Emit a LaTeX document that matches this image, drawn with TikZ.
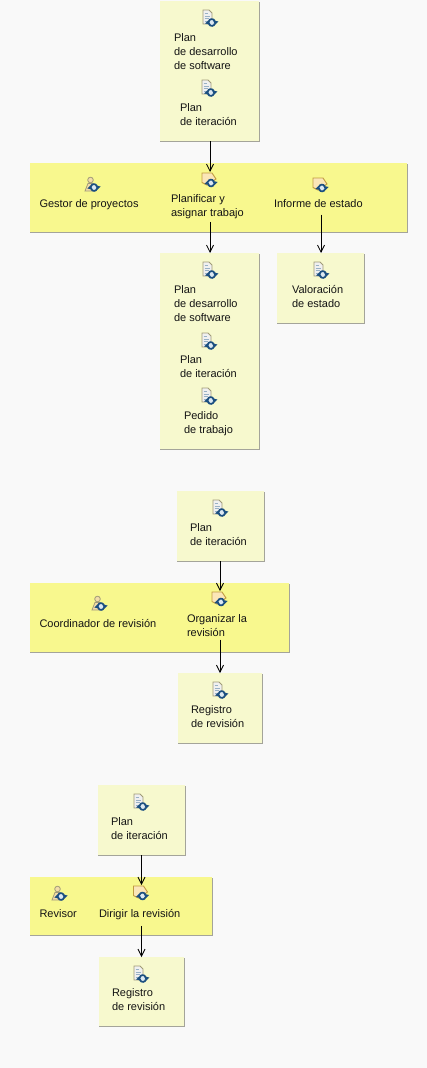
\documentclass[tikz,border=0pt]{standalone}
\usepackage{fontspec}
\setmainfont{Liberation Sans}
\usetikzlibrary{arrows.meta}
\definecolor{pagebg}{HTML}{F9F9F9}
\definecolor{boxfill}{HTML}{F7F9CE}
\definecolor{laneFill}{HTML}{F8F88E}
\definecolor{edgegrey}{HTML}{A4A49A}
\definecolor{rotblue}{HTML}{1B4F80}
\definecolor{rotlight}{HTML}{DCE8F2}
\definecolor{docline}{HTML}{A09A78}
\definecolor{docfill}{HTML}{F0F0F0}
\definecolor{taskline}{HTML}{C09A40}
\definecolor{taskfill}{HTML}{FBE6B8}
\definecolor{rolefill}{HTML}{F3DDA8}
\tikzset{
 x=1pt,y=-1pt,
 artbox/.style={fill=boxfill,draw=none,inner sep=0pt,outer sep=0pt},
 lanebox/.style={fill=laneFill,draw=none,inner sep=0pt,outer sep=0pt},
 lbl/.style={anchor=north west,align=left,inner sep=0pt,outer sep=0pt,font=\fontsize{11}{14}\selectfont,text=black!92},
 iconspot/.style={minimum size=16pt,inner sep=0pt,outer sep=0pt},
 flow/.style={draw=black,line width=0.9pt,-{Straight Barb[length=7pt,width=7pt,line width=0.8pt]}},
 rot/.pic={
   \fill[rotlight] (0,0) circle (3.5);
   \draw[rotblue,line width=1.7pt] (-3,-1) .. controls (-2.4,-4) and (1.5,-4.2) .. (3,-1.5);
   \draw[rotblue,line width=1.7pt] (3,1) .. controls (2.4,4) and (-1.5,4.2) .. (-3,1.5);
   \fill[rotblue] (1.2,-2.2) -- (6.6,-1) -- (3.4,2.2) -- cycle;
   \fill[rotblue] (-1.2,2.2) -- (-6.6,1) -- (-3.4,-2.2) -- cycle;
 },
 docicon/.pic={
   \draw[docline,fill=docfill,line width=0.8pt] (-7,-8) -- (-1,-8) -- (2,-5) -- (2,6) -- (-7,6) -- cycle;
   \draw[rotblue!45,line width=0.7pt] (-5.5,-4.5) -- (-2,-4.5) (-5.5,-2) -- (0,-2) (-5.5,0.5) -- (-1,0.5) (-5.5,3) -- (-3,3);
   \pic at (1.8,4.5) {rot};
 },
 roleicon/.pic={
   \fill[rolefill,draw=docline,line width=0.8pt] (-1.5,-5) circle (2.8);
   \fill[rolefill,draw=docline,line width=0.8pt] (-7,6) -- (-4,-1.5) -- (1,-1.5) -- (3,6) -- cycle;
   \pic at (2,2.5) {rot};
 },
 taskicon/.pic={
   \draw[taskline,fill=taskfill,line width=0.9pt] (-8,-7) -- (2,-7) -- (6,-1) -- (-3,5) -- (-8,2.5) -- cycle;
   \pic at (1,3) {rot};
 },
}
\begin{document}
\begin{tikzpicture}
\useasboundingbox (0,0) rectangle (427,1068);
\fill[pagebg] (0,0) rectangle (427,1068);
% shadows
\foreach \a/\b/\c/\d in {160/1/259/141,30/163/407/232,160/253/259/449,277/253/364/323,177/491/264/561,30/583/289/652,178/673/262/743,98/785/185/855,30/877/212/935,99/957/184/1026}{
  \fill[edgegrey] (\a,\b+1) rectangle (\c+1.2,\d+1.2);
}
% boxes
\node[artbox,minimum width=99pt,minimum height=140pt] (b1) at (209.5,71) {};
\node[lanebox,minimum width=377pt,minimum height=69pt] (s1) at (218.5,197.5) {};
\node[artbox,minimum width=99pt,minimum height=196pt] (b2) at (209.5,351) {};
\node[artbox,minimum width=87pt,minimum height=70pt] (b3) at (320.5,288) {};
\node[artbox,minimum width=87pt,minimum height=70pt] (b4) at (220.5,526) {};
\node[lanebox,minimum width=259pt,minimum height=69pt] (s2) at (159.5,617.5) {};
\node[artbox,minimum width=84pt,minimum height=70pt] (b5) at (220,708) {};
\node[artbox,minimum width=87pt,minimum height=70pt] (b6) at (141.5,820) {};
\node[lanebox,minimum width=182pt,minimum height=58pt] (s3) at (121,906) {};
\node[artbox,minimum width=85pt,minimum height=69pt] (b7) at (141.5,991.5) {};
% icon spots
\node[iconspot] (i1) at (210,18) {}; \pic at (i1) {docicon};
\node[iconspot] (i2) at (209,88) {}; \pic at (i2) {docicon};
\node[iconspot] (r1) at (92,185) {}; \pic at (r1) {roleicon};
\node[iconspot] (t1) at (210,180) {}; \pic at (t1) {taskicon};
\node[iconspot] (t2) at (321,185) {}; \pic at (t2) {taskicon};
\node[iconspot] (i3) at (210,270) {}; \pic at (i3) {docicon};
\node[iconspot] (i4) at (209,341) {}; \pic at (i4) {docicon};
\node[iconspot] (i5) at (209,396) {}; \pic at (i5) {docicon};
\node[iconspot] (i6) at (321,270) {}; \pic at (i6) {docicon};
\node[iconspot] (i7) at (220,508) {}; \pic at (i7) {docicon};
\node[iconspot] (r2) at (99,604) {}; \pic at (r2) {roleicon};
\node[iconspot] (t3) at (220,599) {}; \pic at (t3) {taskicon};
\node[iconspot] (i8) at (220,690) {}; \pic at (i8) {docicon};
\node[iconspot] (i9) at (141,802) {}; \pic at (i9) {docicon};
\node[iconspot] (r3) at (59,894) {}; \pic at (r3) {roleicon};
\node[iconspot] (t4) at (141.5,893) {}; \pic at (t4) {taskicon};
\node[iconspot] (i10) at (141,974) {}; \pic at (i10) {docicon};
% labels
\node[lbl] (l1) at (174,33.5) {Plan\\de desarrollo\\de software};
\node[lbl] (l2) at (180,103.5) {Plan\\de iteración};
\node[lbl] (l3) at (39.5,199.5) {Gestor de proyectos};
\node[lbl] (lt1) at (171,194.5) {Planificar y\\asignar trabajo};
\node[lbl] (lt2) at (274,199.5) {Informe de estado};
\node[lbl] (l4) at (174,285.5) {Plan\\de desarrollo\\de software};
\node[lbl] (l5) at (180,355.5) {Plan\\de iteración};
\node[lbl] (l6) at (184,411.5) {Pedido\\de trabajo};
\node[lbl] (l7) at (292,285.5) {Valoración\\de estado};
\node[lbl] (l8) at (190,523.5) {Plan\\de iteración};
\node[lbl] (l9) at (39.5,619.5) {Coordinador de revisión};
\node[lbl] (lt3) at (187,614.5) {Organizar la\\revisión};
\node[lbl] (l10) at (191,705.5) {Registro\\de revisión};
\node[lbl] (l11) at (111,817.5) {Plan\\de iteración};
\node[lbl] (l12) at (39.5,909.5) {Revisor};
\node[lbl] (lt4) at (99,909.5) {Dirigir la revisión};
\node[lbl] (l13) at (112,988.5) {Registro\\de revisión};
% connectors
\draw[flow] (t1 |- b1.south) -- (t1.north);
\draw[flow] ([yshift=-3pt]t1 |- lt1.south) -- (t1 |- b2.north);
\draw[flow] ([yshift=-7pt]t2 |- lt2.south) -- (t2 |- b3.north);
\draw[flow] (t3 |- b4.south) -- (t3.north);
\draw[flow] ([yshift=-3pt]t3 |- lt3.south) -- (t3 |- b5.north);
\draw[flow] (t4 |- b6.south) -- (t4.north);
\draw[flow] ([yshift=-6pt]t4 |- lt4.south) -- (t4 |- b7.north);
\end{tikzpicture}
\end{document}
